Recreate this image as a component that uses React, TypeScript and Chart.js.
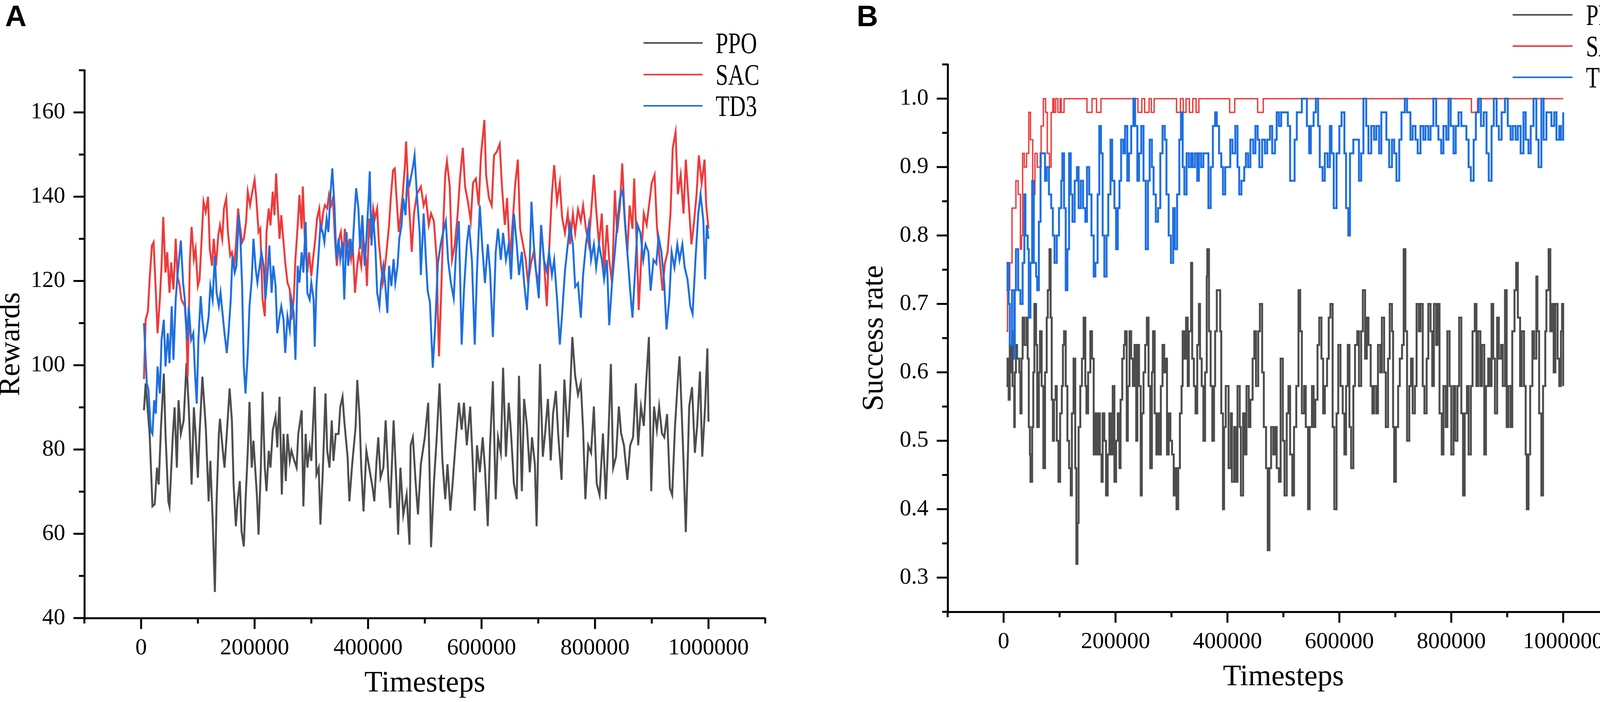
import { useEffect, useRef } from "react"
import Chart from "chart.js/auto"

// [timestep in thousands, value]
type Pt = [number, number]

const seriesLabels = ["PPO", "SAC", "TD3"]
const seriesColors = ["#4d4d4d", "#ee3b3b", "#1e6fe0"]

// ---- panel A : rewards ----
const ppoRewards: Pt[] = [
  [5, 89.3], [8, 95.7], [15, 83.7], [20, 66.5], [24, 67], [28, 75.7], [31, 71.7], [35, 85.3], [40, 98], [43, 83.7],
  [48, 67.7], [50, 66.5], [56, 83.7], [59, 90], [63, 75.7], [66, 91.7], [70, 83.7], [75, 86.9], [80, 100.5], [84, 90],
  [89, 71.7], [93, 90], [96, 83.7], [100, 73.3], [103, 83.7], [108, 97.3], [114, 85.3], [119, 67.7], [122, 77.3], [126, 63.7],
  [130, 46.2], [133, 67.7], [137, 83.7], [139, 87.3], [144, 79.7], [147, 75.7], [151, 83.7], [156, 94.5], [160, 86.9], [163, 71.7],
  [167, 61.8], [170, 67.7], [174, 72.5], [177, 60.6], [181, 57], [184, 67.7], [188, 79.7], [191, 91.3], [195, 75.7], [198, 82.1],
  [204, 69.3], [207, 59.8], [211, 75.7], [214, 93.7], [218, 75.7], [221, 70.1], [225, 79.7], [228, 75.7], [232, 84.5], [237, 87.7],
  [240, 80.5], [244, 92.5], [248, 69.3], [251, 83.7], [255, 72.5], [258, 83.7], [262, 77.3], [265, 79.7], [270, 77.3], [274, 75.7],
  [277, 83.7], [283, 89.3], [286, 66.5], [290, 83.7], [293, 75.7], [297, 80.5], [300, 77.3], [306, 94.9], [309, 74.1], [313, 75.7],
  [316, 62.2], [320, 74.1], [325, 93.3], [328, 79.7], [332, 75.7], [336, 86.9], [339, 77.3], [343, 83.7], [348, 83.7], [351, 90.1],
  [355, 92.5], [358, 86.9], [364, 78.1], [367, 67.7], [372, 76.5], [378, 85.3], [381, 96.5], [385, 87.7], [388, 75.7], [392, 65.3],
  [397, 79.7], [402, 75.7], [408, 70.9], [411, 67.7], [415, 77.3], [418, 82.9], [422, 73.3], [427, 75.7], [431, 86.9], [436, 72.5],
  [439, 66.1], [445, 86.9], [450, 71.7], [453, 59.8], [457, 75.7], [462, 64.5], [468, 69.3], [473, 57.4], [475, 81], [479, 82.9],
  [484, 71.9], [488, 64.6], [493, 76.5], [500, 82.9], [506, 91.1], [511, 56.8], [516, 71.9], [521, 82.9], [526, 95.7], [531, 77.4],
  [536, 68.2], [540, 76.5], [545, 65.5], [549, 71.9], [554, 81], [560, 91.1], [565, 84.7], [569, 91.1], [574, 81], [580, 90.2],
  [584, 78.3], [588, 65.5], [592, 81], [597, 74.6], [602, 82.9], [606, 75.6], [611, 61.8], [615, 81], [620, 96.2], [625, 68.2],
  [629, 82.9], [634, 79.2], [638, 99.4], [643, 78.3], [648, 91.1], [652, 83.8], [657, 71.9], [662, 68.2], [666, 97.5], [671, 70.1],
  [675, 92], [680, 85.6], [685, 74.6], [689, 82.9], [694, 76.5], [697, 61.8], [703, 100.3], [708, 78.3], [712, 83.8], [717, 92],
  [722, 77.4], [726, 88.4], [731, 93.9], [735, 83.8], [741, 72.8], [746, 96.6], [752, 82.9], [756, 93], [760, 106.7], [765, 97.5],
  [770, 93], [775, 95.7], [779, 84.7], [783, 68.2], [788, 81], [793, 79.2], [798, 90.2], [803, 71.9], [808, 69.2], [814, 83.8],
  [819, 68.2], [823, 81], [828, 100.3], [832, 75.6], [837, 78.3], [842, 90.2], [846, 83.8], [851, 81], [857, 72.8], [862, 81],
  [867, 82.9], [872, 95.7], [876, 81], [881, 90.2], [886, 85.6], [890, 95.7], [895, 106.7], [899, 70.1], [904, 90.2], [909, 84.7],
  [913, 90.2], [918, 83.8], [922, 82.9], [927, 88.4], [932, 70.8], [936, 69.2], [941, 85.6], [946, 96.6], [949, 102.1], [955, 81],
  [960, 60.4], [966, 90.2], [971, 94.8], [976, 79.2], [980, 85.6], [985, 98.5], [989, 78.3], [994, 90.2], [998, 104], [1000, 86.6],
]

const sacRewards: Pt[] = [
  [5, 96.7], [8, 110.8], [12, 112.8], [15, 120.4], [19, 128.4], [22, 129.2], [26, 117.2], [29, 107.6], [33, 115.6], [36, 123.6],
  [39, 135.2], [43, 122], [46, 126.8], [50, 117.2], [53, 124.4], [57, 118], [61, 130], [64, 121.2], [68, 118.8], [71, 115.6],
  [77, 114], [80, 107.6], [82, 97.3], [86, 125.2], [89, 132.8], [93, 125.2], [96, 127.6], [100, 118.8], [103, 120.4], [107, 130.8],
  [110, 138.8], [114, 136.4], [118, 140], [121, 127.6], [125, 123.6], [128, 130], [132, 123.6], [136, 130.8], [139, 133.2], [143, 130],
  [146, 137.2], [150, 139.6], [153, 131.6], [157, 126], [160, 126.8], [164, 123.6], [167, 128.4], [171, 137.2], [174, 133.2], [178, 129.2],
  [181, 130], [185, 134], [188, 141.2], [192, 138], [195, 140.4], [200, 144], [203, 139.6], [207, 131.6], [210, 132.4], [214, 115.6],
  [218, 111.6], [221, 131.6], [225, 137.2], [228, 133.2], [232, 141.2], [235, 135.6], [238, 145.5], [240, 139.6], [244, 130], [247, 135.6],
  [251, 129.2], [254, 124.4], [258, 119.6], [262, 118], [265, 110.8], [269, 115.6], [272, 125.2], [276, 133.2], [279, 140.4], [283, 132.4],
  [285, 142.4], [289, 128.4], [293, 122], [296, 126.8], [300, 121.2], [303, 125.2], [307, 130], [310, 134.8], [314, 137.2], [317, 131.6],
  [321, 136.4], [324, 138], [328, 137.2], [331, 140.4], [335, 138], [338, 139.6], [342, 129.2], [345, 123.6], [349, 130], [352, 131.6],
  [356, 125.2], [359, 132.4], [363, 127.6], [366, 129.2], [370, 125.2], [373, 128.4], [377, 117.2], [381, 123.6], [384, 126.8], [388, 123.6],
  [391, 130], [395, 127.6], [398, 118.8], [402, 134.8], [405, 130], [409, 137.2], [412, 134.8], [416, 137.2], [419, 129.2], [423, 123.6],
  [426, 119.6], [430, 123.6], [433, 127.6], [437, 133.2], [440, 139.6], [444, 146.3], [447, 146.7], [451, 138], [454, 131.6], [458, 136.4],
  [461, 140.4], [465, 147.5], [467, 153.1], [471, 141.2], [477, 126.9], [481, 136], [486, 140.6], [493, 142.4], [498, 137.9], [502, 139.7],
  [507, 133.3], [511, 136], [516, 134.2], [521, 125], [523, 112.2], [525, 102.1], [529, 117.7], [532, 131.4], [536, 145.2], [539, 148.4],
  [544, 142.4], [548, 125], [553, 128.7], [558, 136], [562, 144.3], [567, 151.6], [571, 142.4], [576, 138.8], [581, 134.2], [585, 143.3],
  [590, 144.3], [595, 137.9], [599, 149.8], [605, 158.2], [608, 145.2], [613, 139.7], [618, 137.9], [622, 149.8], [627, 150.7], [632, 152.5],
  [636, 142.4], [641, 133.3], [645, 139.7], [650, 125], [655, 134.2], [659, 142.4], [664, 148.8], [668, 132.4], [673, 128.7], [678, 125],
  [682, 119.5], [687, 124.1], [692, 126.9], [696, 122.3], [701, 119.5], [705, 133.3], [710, 125], [715, 114], [719, 126.9], [724, 140.6],
  [728, 147.5], [733, 138.8], [738, 143.3], [742, 135.1], [747, 131.4], [752, 136], [756, 128.7], [761, 136], [765, 131.4], [770, 137],
  [775, 134.2], [779, 137.9], [784, 132.4], [789, 128.7], [793, 136], [798, 145.2], [802, 137], [807, 128.7], [812, 136], [816, 122.3],
  [821, 133.3], [825, 125], [830, 119.5], [835, 141.5], [839, 131.4], [844, 137.9], [848, 147.9], [852, 136], [857, 126.9], [861, 137.9],
  [866, 132.4], [869, 144.3], [874, 126.9], [877, 113.1], [882, 126.9], [886, 136], [891, 133.3], [896, 138.8], [900, 143.3], [905, 145.2],
  [909, 133.3], [914, 125], [919, 117.7], [923, 124.1], [928, 126.9], [933, 136], [937, 151.6], [942, 155.3], [946, 140.6], [951, 145.2],
  [956, 136], [960, 148.8], [965, 138.8], [970, 128.7], [974, 133.3], [979, 140.6], [983, 149.8], [988, 143.3], [993, 148.8], [996, 137.9],
  [1000, 132.4],
]

const td3Rewards: Pt[] = [
  [5, 110], [7, 104.4], [10, 95.7], [13, 94.1], [17, 84.5], [20, 83.7], [23, 91.7], [26, 88.5], [29, 99.7], [33, 93.3],
  [36, 106], [40, 110.8], [43, 99.7], [47, 107.6], [50, 100.5], [54, 114], [57, 101.3], [61, 115.6], [64, 121.2], [68, 126.8],
  [70, 129.6], [74, 119.6], [77, 115.6], [81, 106], [84, 114], [88, 106], [92, 107.6], [95, 98.1], [98, 90.9], [101, 106],
  [105, 116.4], [108, 110.8], [112, 106], [115, 107.6], [119, 111.6], [122, 118.8], [126, 115.6], [130, 126], [133, 117.2], [137, 114],
  [140, 117.2], [144, 111.6], [147, 107.6], [151, 102.9], [154, 107.6], [158, 115.6], [161, 126], [165, 122], [168, 123.6], [172, 135.6],
  [175, 130], [178, 118.8], [181, 99.7], [184, 93.3], [188, 102.9], [191, 114], [195, 120.4], [198, 130], [202, 122.8], [205, 119.6],
  [209, 123.6], [212, 126.8], [216, 123.6], [219, 115.6], [223, 122], [226, 128.4], [230, 117.2], [233, 123.6], [237, 118.8], [240, 107.6],
  [244, 111.6], [247, 114], [251, 110.8], [254, 102.9], [258, 111.6], [262, 108.4], [265, 115.6], [269, 112.4], [272, 101.3], [276, 123.6],
  [279, 119.6], [283, 126.8], [286, 122], [290, 134], [293, 117.2], [297, 115.6], [300, 119.6], [304, 115.6], [306, 104.4], [309, 118.8],
  [313, 126.8], [316, 133.2], [320, 131.6], [323, 129.2], [327, 134.8], [330, 131.6], [334, 141.2], [337, 146.7], [341, 137.2], [344, 125.2],
  [348, 130], [351, 125.2], [355, 129.2], [358, 115.6], [362, 131.6], [365, 123.6], [369, 130], [372, 126], [376, 135.6], [379, 142],
  [383, 137.2], [386, 127.6], [390, 135.6], [394, 123.6], [397, 130], [401, 139.6], [403, 146], [406, 128.4], [409, 135.6], [413, 127.6],
  [416, 117.2], [420, 114], [423, 119.6], [427, 123.6], [430, 119.6], [434, 112.4], [437, 123.6], [441, 118.8], [445, 125.2], [448, 119.6],
  [452, 123.6], [455, 130], [459, 133.2], [462, 139.6], [466, 135.6], [469, 144.3], [473, 142.8], [479, 147], [482, 149.8], [486, 140.6],
  [491, 131.4], [493, 121.4], [498, 136], [502, 125], [505, 117.7], [509, 115], [514, 99.4], [518, 108.5], [523, 124.1], [528, 128.7],
  [532, 131.4], [537, 134.2], [541, 125], [546, 119.5], [551, 115.9], [555, 126.9], [560, 134.2], [565, 104.9], [569, 117.7], [574, 128.7],
  [578, 133.3], [583, 125], [588, 104.9], [592, 122.3], [597, 137.9], [601, 128.7], [606, 119.5], [611, 128.7], [615, 122.3], [620, 106.7],
  [625, 126.9], [629, 132.4], [634, 125], [638, 131.4], [643, 125], [648, 128.7], [652, 120.4], [657, 136], [662, 128.7], [666, 121.4],
  [671, 126.9], [675, 119.5], [680, 113.1], [685, 125], [688, 138.8], [692, 128.7], [696, 122.3], [701, 115.9], [705, 133.3], [710, 125],
  [715, 122.3], [719, 126.9], [724, 121.4], [728, 125], [733, 115.9], [738, 104.9], [742, 112.2], [747, 122.3], [752, 128.7], [756, 133.3],
  [761, 128.7], [765, 118.6], [770, 119.5], [775, 111.3], [779, 121.4], [784, 128.7], [789, 133.3], [793, 125], [798, 128.7], [802, 123.2],
  [807, 128.7], [812, 125], [816, 120.4], [821, 125], [825, 109.5], [830, 119.5], [835, 126.9], [839, 133.3], [844, 139.7], [849, 141.5],
  [853, 133.3], [858, 125], [862, 117.7], [866, 111.3], [871, 123.2], [875, 133.3], [880, 131.4], [885, 125], [889, 128.7], [894, 126.9],
  [898, 117.7], [903, 125], [908, 124.1], [912, 130.5], [917, 126.9], [922, 119.5], [926, 108.5], [931, 115.9], [935, 126.9], [940, 123.2],
  [945, 128.7], [949, 125], [954, 128.7], [958, 123.2], [963, 120.4], [968, 114], [972, 112.2], [977, 125], [982, 136], [986, 140.6],
  [991, 134.2], [994, 120.4], [997, 133.3], [1000, 130],
]

// ---- panel B : success rate ----
const ppoSuccess: Pt[] = [
  [5, 0.58], [7, 0.62], [9, 0.56], [11, 0.64], [13, 0.6], [15, 0.66], [16, 0.58], [19, 0.52], [20, 0.6], [22, 0.64],
  [24, 0.62], [26, 0.62], [28, 0.6], [30, 0.54], [32, 0.62], [34, 0.68], [37, 0.64], [41, 0.68], [43, 0.62], [45, 0.52],
  [47, 0.48], [48, 0.44], [51, 0.52], [53, 0.6], [55, 0.7], [58, 0.64], [60, 0.52], [63, 0.6], [65, 0.66], [68, 0.58],
  [71, 0.46], [74, 0.6], [77, 0.68], [79, 0.72], [82, 0.78], [84, 0.68], [86, 0.56], [88, 0.5], [90, 0.56], [93, 0.58],
  [95, 0.5], [98, 0.44], [101, 0.54], [104, 0.58], [106, 0.64], [108, 0.66], [111, 0.58], [114, 0.5], [117, 0.46], [120, 0.42],
  [122, 0.54], [125, 0.62], [128, 0.46], [130, 0.32], [132, 0.38], [134, 0.52], [137, 0.58], [140, 0.62], [143, 0.68], [146, 0.58],
  [148, 0.54], [151, 0.6], [155, 0.66], [158, 0.62], [161, 0.48], [163, 0.54], [166, 0.48], [169, 0.54], [172, 0.48], [175, 0.44],
  [177, 0.54], [180, 0.5], [183, 0.42], [186, 0.48], [189, 0.54], [192, 0.48], [195, 0.58], [198, 0.44], [201, 0.5], [204, 0.54],
  [207, 0.46], [209, 0.56], [212, 0.62], [215, 0.64], [217, 0.66], [220, 0.5], [222, 0.58], [225, 0.66], [228, 0.62], [231, 0.58],
  [234, 0.64], [237, 0.5], [239, 0.64], [242, 0.58], [245, 0.42], [247, 0.54], [250, 0.6], [253, 0.64], [256, 0.68], [259, 0.58],
  [262, 0.46], [265, 0.6], [267, 0.66], [270, 0.54], [273, 0.48], [275, 0.54], [278, 0.48], [281, 0.58], [284, 0.64], [287, 0.6],
  [290, 0.62], [292, 0.48], [295, 0.54], [298, 0.5], [301, 0.48], [304, 0.42], [306, 0.46], [309, 0.4], [312, 0.46], [315, 0.54],
  [318, 0.58], [320, 0.66], [323, 0.62], [326, 0.68], [329, 0.58], [331, 0.66], [335, 0.76], [337, 0.62], [340, 0.58], [343, 0.54],
  [346, 0.64], [349, 0.7], [351, 0.62], [354, 0.58], [357, 0.5], [360, 0.6], [363, 0.74], [364, 0.78], [367, 0.66], [370, 0.58],
  [373, 0.5], [376, 0.58], [378, 0.66], [381, 0.72], [384, 0.72], [387, 0.66], [389, 0.54], [392, 0.4], [394, 0.52], [397, 0.58],
  [400, 0.58], [402, 0.46], [406, 0.54], [408, 0.44], [412, 0.52], [415, 0.44], [418, 0.58], [422, 0.52], [424, 0.42], [428, 0.54],
  [431, 0.48], [434, 0.58], [438, 0.52], [441, 0.56], [445, 0.62], [448, 0.66], [451, 0.58], [455, 0.66], [458, 0.7], [462, 0.6],
  [465, 0.52], [469, 0.46], [472, 0.34], [475, 0.46], [478, 0.52], [482, 0.48], [485, 0.52], [488, 0.46], [492, 0.44], [495, 0.62],
  [499, 0.5], [502, 0.42], [506, 0.54], [509, 0.58], [512, 0.48], [516, 0.42], [519, 0.52], [523, 0.58], [527, 0.72], [530, 0.66],
  [533, 0.54], [537, 0.58], [540, 0.52], [544, 0.4], [547, 0.52], [551, 0.58], [554, 0.52], [557, 0.56], [561, 0.64], [564, 0.68],
  [568, 0.62], [571, 0.54], [574, 0.58], [578, 0.62], [581, 0.68], [584, 0.7], [588, 0.52], [591, 0.4], [595, 0.54], [598, 0.64],
  [602, 0.58], [606, 0.54], [609, 0.48], [612, 0.58], [615, 0.64], [618, 0.52], [621, 0.46], [625, 0.58], [628, 0.64], [632, 0.66],
  [635, 0.58], [639, 0.66], [642, 0.72], [646, 0.62], [649, 0.68], [652, 0.64], [656, 0.58], [659, 0.54], [662, 0.58], [666, 0.54],
  [669, 0.64], [673, 0.6], [676, 0.68], [680, 0.6], [683, 0.52], [687, 0.62], [690, 0.7], [694, 0.66], [696, 0.52], [698, 0.44],
  [701, 0.52], [705, 0.58], [708, 0.62], [712, 0.64], [715, 0.78], [718, 0.66], [721, 0.5], [725, 0.58], [728, 0.62], [731, 0.54],
  [735, 0.58], [738, 0.7], [742, 0.66], [745, 0.7], [749, 0.58], [752, 0.54], [756, 0.62], [759, 0.7], [763, 0.66], [766, 0.58],
  [769, 0.7], [773, 0.64], [776, 0.7], [779, 0.54], [783, 0.48], [786, 0.58], [790, 0.52], [793, 0.66], [797, 0.58], [800, 0.48],
  [804, 0.58], [807, 0.5], [811, 0.58], [814, 0.68], [818, 0.54], [821, 0.42], [824, 0.54], [828, 0.58], [831, 0.48], [835, 0.58],
  [838, 0.66], [842, 0.7], [845, 0.58], [848, 0.66], [852, 0.58], [855, 0.64], [859, 0.48], [862, 0.58], [866, 0.62], [869, 0.58],
  [872, 0.7], [875, 0.62], [878, 0.54], [882, 0.68], [885, 0.62], [889, 0.64], [892, 0.58], [896, 0.72], [899, 0.52], [902, 0.58],
  [906, 0.52], [909, 0.66], [913, 0.72], [916, 0.76], [919, 0.68], [923, 0.58], [926, 0.66], [930, 0.58], [933, 0.48], [935, 0.4],
  [938, 0.48], [941, 0.58], [945, 0.66], [948, 0.62], [952, 0.74], [954, 0.66], [957, 0.54], [961, 0.42], [964, 0.58], [968, 0.66],
  [970, 0.72], [974, 0.78], [977, 0.66], [980, 0.7], [983, 0.6], [986, 0.7], [990, 0.62], [993, 0.58], [996, 0.66], [998, 0.7],
  [1000, 0.58],
]

const sacSuccess: Pt[] = [
  [5, 0.66], [7, 0.72], [11, 0.76], [15, 0.84], [22, 0.88], [26, 0.86], [30, 0.78], [32, 0.8], [34, 0.92], [37, 0.9],
  [41, 0.92], [45, 0.98], [48, 0.94], [52, 0.86], [56, 0.92], [60, 0.9], [67, 0.96], [71, 1], [75, 0.98], [78, 0.92],
  [82, 0.9], [85, 0.98], [88, 1], [90, 0.98], [93, 1], [97, 0.98], [101, 1], [103, 0.98], [108, 1], [149, 0.98],
  [158, 1], [166, 0.98], [174, 1], [240, 0.98], [247, 1], [252, 0.98], [260, 1], [264, 0.98], [269, 1], [309, 0.98],
  [316, 1], [321, 0.98], [326, 1], [332, 0.98], [338, 1], [344, 0.98], [349, 1], [404, 0.98], [413, 1], [454, 0.98],
  [464, 1], [836, 0.98], [847, 1], [1000, 1],
]

const td3Success: Pt[] = [
  [5, 0.72], [7, 0.76], [9, 0.7], [11, 0.64], [15, 0.72], [19, 0.62], [20, 0.72], [22, 0.78], [26, 0.72], [30, 0.7],
  [34, 0.76], [37, 0.86], [39, 0.8], [43, 0.78], [45, 0.68], [48, 0.76], [51, 0.88], [54, 0.76], [58, 0.74], [60, 0.72],
  [63, 0.82], [66, 0.92], [70, 0.92], [74, 0.88], [77, 0.9], [81, 0.86], [85, 0.84], [88, 0.8], [91, 0.76], [95, 0.8],
  [99, 0.84], [103, 0.88], [105, 0.92], [108, 0.84], [111, 0.72], [114, 0.78], [117, 0.92], [120, 0.86], [123, 0.82], [127, 0.88],
  [131, 0.9], [134, 0.84], [138, 0.88], [142, 0.84], [146, 0.82], [149, 0.9], [153, 0.86], [157, 0.8], [161, 0.74], [164, 0.76],
  [168, 0.86], [171, 0.96], [174, 0.92], [177, 0.8], [180, 0.74], [184, 0.8], [187, 0.86], [191, 0.94], [194, 0.88], [198, 0.84],
  [201, 0.78], [204, 0.84], [207, 0.88], [210, 0.94], [214, 0.92], [217, 0.96], [221, 0.88], [224, 0.92], [228, 0.96], [232, 1],
  [235, 0.96], [239, 0.88], [242, 0.92], [246, 0.96], [250, 0.88], [254, 0.78], [258, 0.88], [261, 0.94], [265, 0.9], [268, 0.86],
  [272, 0.82], [276, 0.84], [280, 0.92], [284, 0.96], [288, 0.94], [291, 0.86], [295, 0.8], [299, 0.76], [303, 0.84], [306, 0.78],
  [310, 0.86], [314, 0.94], [317, 0.98], [320, 0.9], [323, 0.86], [327, 0.92], [331, 0.9], [335, 0.92], [338, 0.9], [342, 0.92],
  [346, 0.88], [349, 0.92], [353, 0.9], [357, 0.92], [363, 0.92], [366, 0.84], [370, 0.9], [374, 0.96], [378, 0.98], [381, 0.96],
  [385, 0.92], [389, 0.9], [392, 0.86], [396, 0.9], [400, 0.9], [405, 0.94], [409, 0.92], [414, 0.96], [418, 0.9], [421, 0.86],
  [425, 0.88], [430, 0.9], [433, 0.92], [437, 0.9], [441, 0.94], [446, 0.92], [450, 0.96], [454, 0.94], [457, 0.9], [462, 0.94],
  [467, 0.92], [471, 0.94], [476, 0.96], [480, 0.92], [485, 0.94], [488, 0.98], [492, 0.96], [496, 0.98], [508, 0.96], [512, 0.88],
  [520, 0.94], [524, 0.98], [533, 1], [542, 0.96], [546, 0.92], [549, 0.96], [554, 0.98], [558, 1], [562, 0.96], [565, 0.9],
  [570, 0.88], [574, 0.92], [579, 0.9], [583, 0.96], [586, 0.92], [590, 0.84], [595, 0.92], [600, 0.96], [604, 0.98], [609, 0.92],
  [612, 0.84], [616, 0.8], [619, 0.92], [625, 0.94], [635, 0.88], [639, 0.92], [643, 1], [648, 0.96], [652, 0.92], [657, 0.96],
  [662, 0.94], [666, 0.96], [671, 0.92], [675, 0.98], [684, 0.94], [689, 0.9], [694, 0.94], [698, 0.92], [702, 0.88], [707, 0.94],
  [711, 0.98], [717, 1], [721, 0.98], [727, 0.94], [731, 0.96], [736, 0.94], [740, 0.92], [745, 0.96], [750, 0.94], [754, 0.96],
  [759, 0.94], [763, 0.96], [768, 1], [773, 0.96], [777, 0.94], [782, 0.92], [786, 0.96], [791, 0.94], [795, 1], [799, 0.96],
  [804, 0.92], [808, 0.96], [813, 0.98], [818, 0.96], [827, 0.94], [831, 0.9], [835, 0.88], [840, 0.94], [844, 0.98], [849, 1],
  [853, 0.96], [858, 0.98], [863, 0.92], [867, 0.88], [872, 0.96], [876, 1], [881, 0.96], [885, 0.94], [890, 0.98], [896, 1],
  [901, 0.96], [906, 0.94], [910, 0.96], [915, 0.94], [919, 0.96], [924, 0.92], [929, 0.98], [933, 0.94], [938, 0.92], [942, 0.96],
  [947, 1], [952, 0.94], [956, 0.9], [961, 1], [965, 0.94], [970, 0.98], [979, 0.96], [984, 0.98], [988, 0.94], [993, 0.96],
  [996, 0.94], [1000, 0.98],
]

const SERIF = "'Liberation Serif', 'Times New Roman', serif"

type PanelConfig = {
  letter: string
  left: number
  width: number
  padding: { left: number; top: number; right: number; bottom: number }
  yWidth: number
  yMin: number
  yMax: number
  yStep: number
  yLabel: (v: number) => string
  yTitle: string
  data: Pt[][]
  lineWidths: number[]
  stepped: boolean
  legend: { lineStart: number; lineEnd: number; textX: number; rows: number[] }
  letterX: number
}

const isMultiple = (v: number, step: number) => Math.abs(v / step - Math.round(v / step)) < 1e-6

function Panel({ cfg }: { cfg: PanelConfig }) {
  const canvasRef = useRef<HTMLCanvasElement>(null)

  useEffect(() => {
    if (!canvasRef.current) return

    // tick marks (long for labelled, short for minor), legend and panel letter
    const decor = {
      id: "decor",
      afterDraw(chart: Chart) {
        const { ctx, chartArea: area } = chart
        const xs = chart.scales.x
        const ys = chart.scales.y
        ctx.save()
        ctx.strokeStyle = "#000"
        ctx.lineWidth = 5
        ctx.lineCap = "butt"
        xs.ticks.forEach((t) => {
          const px = xs.getPixelForValue(t.value)
          const len = t.label ? 28 : 14
          ctx.beginPath()
          ctx.moveTo(px, area.bottom)
          ctx.lineTo(px, area.bottom + len)
          ctx.stroke()
        })
        ys.ticks.forEach((t) => {
          const py = ys.getPixelForValue(t.value)
          const len = t.label ? 28 : 14
          ctx.beginPath()
          ctx.moveTo(area.left, py)
          ctx.lineTo(area.left - len, py)
          ctx.stroke()
        })

        ctx.lineWidth = 4
        ctx.lineCap = "round"
        ctx.font = `76px ${SERIF}`
        ctx.textBaseline = "alphabetic"
        ctx.textAlign = "left"
        seriesLabels.forEach((label, i) => {
          const y = area.top + cfg.legend.rows[i]
          ctx.strokeStyle = seriesColors[i]
          ctx.beginPath()
          ctx.moveTo(area.right + cfg.legend.lineStart, y)
          ctx.lineTo(area.right + cfg.legend.lineEnd, y)
          ctx.stroke()
          // the legend face is a condensed serif: squeeze it horizontally
          ctx.save()
          ctx.translate(area.right + cfg.legend.textX, y + 26)
          ctx.scale(0.76, 1)
          ctx.fillStyle = "#000"
          ctx.fillText(label, 0, 0)
          ctx.restore()
        })

        ctx.fillStyle = "#000"
        ctx.font = "bold 76px 'Liberation Sans', Arial, sans-serif"
        ctx.fillText(cfg.letter, cfg.letterX, 67)
        ctx.restore()
      },
    }

    const chart = new Chart(canvasRef.current, {
      type: "line",
      data: {
        datasets: cfg.data.map((pts, i) => ({
          label: seriesLabels[i],
          data: pts.map(([t, v]) => ({ x: t * 1000, y: v })),
          borderColor: seriesColors[i],
          borderWidth: cfg.lineWidths[i],
          pointRadius: 0,
          tension: 0,
          stepped: cfg.stepped,
          order: 3 - i,
        })),
      },
      options: {
        animation: false,
        responsive: false,
        devicePixelRatio: 1,
        events: [],
        layout: { padding: cfg.padding },
        plugins: {
          legend: { display: false },
          tooltip: { enabled: false },
        },
        scales: {
          x: {
            type: "linear",
            min: -100000,
            max: 1100000,
            afterFit: (scale) => {
              scale.height = 215
            },
            grid: { display: false, drawTicks: false },
            border: { display: true, color: "#000", width: 5 },
            ticks: {
              stepSize: 100000,
              autoSkip: false,
              maxRotation: 0,
              minRotation: 0,
              padding: 48,
              color: "#000",
              font: { family: SERIF, size: 59, lineHeight: 1 },
              callback: (v) => (isMultiple(Number(v), 200000) ? String(v) : ""),
            },
            title: {
              display: true,
              text: "Timesteps",
              color: "#000",
              font: { family: SERIF, size: 76, lineHeight: 0.76 },
              padding: { top: 0, bottom: 18 },
            },
          },
          y: {
            type: "linear",
            min: cfg.yMin,
            max: cfg.yMax,
            afterFit: (scale) => {
              scale.width = cfg.yWidth
            },
            grid: { display: false, drawTicks: false },
            border: { display: true, color: "#000", width: 5 },
            ticks: {
              stepSize: cfg.yStep,
              autoSkip: false,
              padding: 49,
              color: "#000",
              font: { family: SERIF, size: 59, lineHeight: 1 },
              callback: (v) => cfg.yLabel(Number(v)),
            },
            title: {
              display: true,
              text: cfg.yTitle,
              color: "#000",
              font: { family: SERIF, size: 76, lineHeight: 0.76 },
              padding: { top: 0, bottom: 0 },
            },
          },
        },
      },
      plugins: [decor],
    })

    return () => {
      chart.destroy()
    }
  }, [cfg])

  return (
    <canvas
      ref={canvasRef}
      width={cfg.width}
      height={1798}
      style={{ position: "absolute", left: cfg.left, top: 0, width: cfg.width, height: 1798 }}
    />
  )
}

const panelA: PanelConfig = {
  letter: "A",
  left: 0,
  width: 2096,
  padding: { left: 0, top: 180, right: 137, bottom: 0 },
  yWidth: 216,
  yMin: 40,
  yMax: 170,
  yStep: 10,
  yLabel: (v) => (isMultiple(v, 20) ? String(Math.round(v)) : ""),
  yTitle: "Rewards",
  data: [ppoRewards, sacRewards, td3Rewards],
  lineWidths: [5, 5, 5],
  stepped: false,
  legend: { lineStart: -310, lineEnd: -162, textX: -127, rows: [-70, 11, 91] },
  letterX: 13,
}

const panelB: PanelConfig = {
  letter: "B",
  left: 2096,
  width: 2097,
  padding: { left: 114, top: 165, right: 27, bottom: 16 },
  yWidth: 216,
  yMin: 0.25,
  yMax: 1.05,
  yStep: 0.05,
  yLabel: (v) => (isMultiple(v, 0.1) ? v.toFixed(1) : ""),
  yTitle: "Success rate",
  data: [ppoSuccess, sacSuccess, td3Success],
  lineWidths: [5, 3.5, 5],
  stepped: true,
  legend: { lineStart: -271, lineEnd: -121, textX: -85, rows: [-127, -47, 33] },
  letterX: 97,
}

export default function App() {
  return (
    <div style={{ position: "absolute", left: 0, top: 0, width: 4193, height: 1798, background: "#fff" }}>
      <Panel cfg={panelA} />
      <Panel cfg={panelB} />
    </div>
  )
}
